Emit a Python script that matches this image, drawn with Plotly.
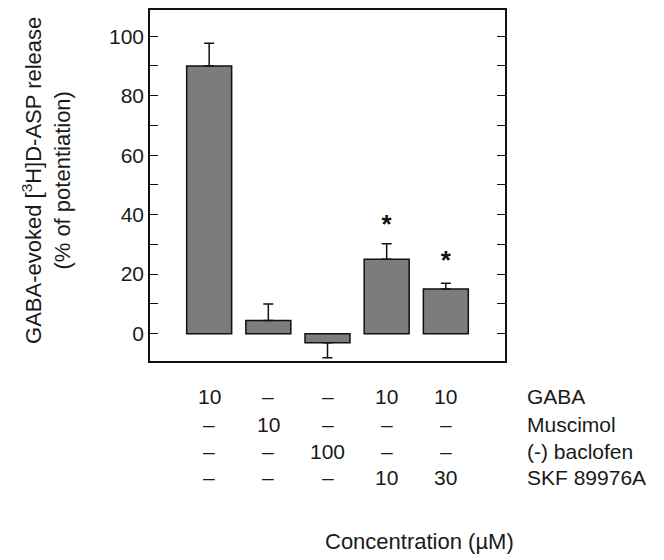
import plotly.graph_objects as go

positions = [0, 1, 2, 3, 4]
values = [90, 4.4, -3.1, 25, 15]
err_up = [7.6, 5.6, 0, 5.2, 1.9]
err_down = [0, 0, 5, 0, 0]
star_pos = [3, 4]
star_y = [36.0, 24.0]

row_labels = ["GABA", "Muscimol", "(-) baclofen", "SKF 89976A"]
row_values = [
    ["10", "–", "–", "10", "10"],
    ["–", "10", "–", "–", "–"],
    ["–", "–", "100", "–", "–"],
    ["–", "–", "–", "10", "30"],
]
row_shift = [-35, -63, -90, -116]

yticks = [0, 20, 40, 60, 80, 100]
ytick_text = ["0", "20", "40", "60", "80", "100"]
yminor = [10, 30, 50, 70, 90]

FONT = "Liberation Sans, Arial, sans-serif"
TXT = "#1a1a1a"
TSIZE = 21

fig = go.Figure()
fig.add_trace(go.Bar(
    x=positions, y=values, width=0.76,
    marker=dict(color="#7c7c7c", line=dict(color="#111111", width=1.5)),
    error_y=dict(type="data", symmetric=False, array=err_up, arrayminus=err_down,
                 color="#111111", thickness=1.5, width=5),
    showlegend=False,
))
fig.add_trace(go.Scatter(
    x=star_pos, y=star_y, mode="text", text=["<b>*</b>"] * len(star_pos),
    textfont=dict(size=26, color="#111111", family=FONT),
    showlegend=False, hoverinfo="skip",
))

annotations = []
for r, (lab, vals) in enumerate(zip(row_labels, row_values)):
    for p, v in zip(positions, vals):
        annotations.append(dict(x=p, y=0, xref="x", yref="paper", yshift=row_shift[r],
                                text=v, showarrow=False, xanchor="center", yanchor="middle",
                                font=dict(size=TSIZE, color=TXT, family=FONT)))
    annotations.append(dict(x=1.055, y=0, xref="paper", yref="paper", yshift=row_shift[r],
                            text=lab, showarrow=False, xanchor="left", yanchor="middle",
                            font=dict(size=TSIZE, color=TXT, family=FONT)))
annotations.append(dict(x=0.758, y=0, xref="paper", yref="paper", yshift=-180,
                        text="Concentration (µM)", showarrow=False, xanchor="center",
                        yanchor="middle", font=dict(size=22, color=TXT, family=FONT)))
annotations.append(dict(x=-0.29, y=0.513, xref="paper", yref="paper",
                        text="GABA-evoked [<sup>3</sup>H]D-ASP release<br>(% of potentiation)",
                        textangle=-90, showarrow=False, xanchor="center", yanchor="middle",
                        font=dict(size=22, color=TXT, family=FONT)))

fig.update_layout(
    width=656, height=552,
    margin=dict(l=142, r=159, t=0, b=199),
    paper_bgcolor="white", plot_bgcolor="white",
    font=dict(family=FONT, color=TXT),
    annotations=annotations,
    xaxis=dict(range=[-1.0, 5.0], showticklabels=False, ticks="", showgrid=False,
               zeroline=False, showline=True, linecolor="#111111", linewidth=1.5, mirror=True),
    yaxis=dict(range=[-9.2, 108.8], tickvals=yticks, ticktext=ytick_text, ticks="inside",
               ticklen=8, tickwidth=1.2, tickcolor="#111111", showgrid=False, zeroline=False,
               showline=True, linecolor="#111111", linewidth=1.5, mirror="ticks",
               minor=dict(tickvals=yminor, ticks="inside", ticklen=8, tickwidth=1.2,
                          tickcolor="#111111", showgrid=False),
               tickfont=dict(size=21, color=TXT, family=FONT)),
)

fig.write_html("out.html")
